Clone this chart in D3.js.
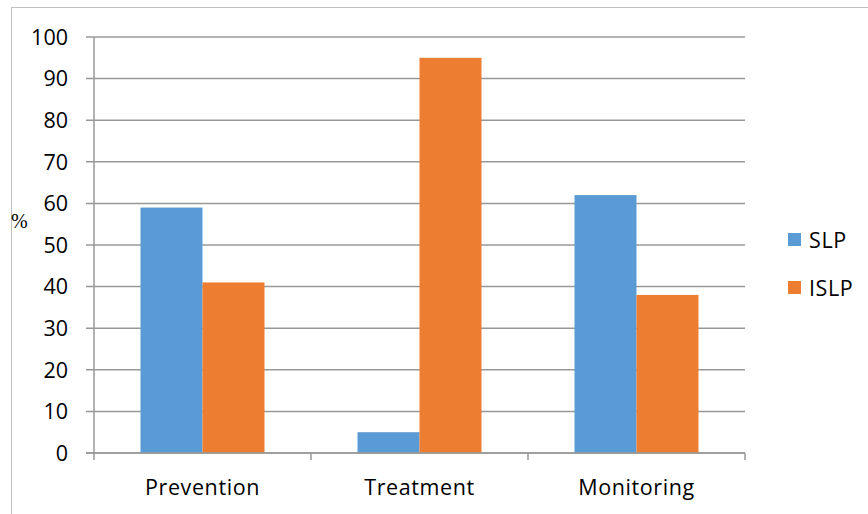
<!DOCTYPE html>
<html>
<head>
<meta charset="utf-8">
<script src="https://cdn.jsdelivr.net/npm/d3@7"></script>
<style>
  html, body { margin: 0; padding: 0; background: #fff; }
  svg { display: block; }
</style>
</head>
<body>
<svg id="chart" width="868" height="514"></svg>
<script>
// Share of each activity by group (%)
const categories = ["Prevention", "Treatment", "Monitoring"];
const seriesNames = ["SLP", "ISLP"];
const slpValues = [59, 5, 62];
const islpValues = [41, 95, 38];
const yTicks = [0, 10, 20, 30, 40, 50, 60, 70, 80, 90, 100];
const colors = ["#5B9BD5", "#ED7D31"];

(function () {
  const svg = d3.select("#chart");
  const W = 868, H = 514;
  const font = "'Open Sans', Lato, sans-serif";

  // outer frame
  svg.append("rect")
    .attr("x", 11.5).attr("y", 7.5)
    .attr("width", W).attr("height", H)
    .attr("fill", "none").attr("stroke", "#bfbfbf").attr("stroke-width", 1);

  const plotLeft = 94, plotRight = 745, plotTop = 37, plotBottom = 453;

  const x = d3.scaleBand().domain(categories).range([plotLeft, plotRight]).paddingInner(0).paddingOuter(0);
  const xs = d3.scaleBand().domain(seriesNames).range([0, x.bandwidth()]).paddingInner(0).paddingOuter(0.75);
  const y = d3.scaleLinear().domain([0, 100]).range([plotBottom, plotTop]);

  // gridlines
  svg.append("g")
    .selectAll("line").data(yTicks).join("line")
    .attr("x1", plotLeft - 8).attr("x2", plotRight)
    .attr("y1", d => y(d)).attr("y2", d => y(d))
    .attr("stroke", "#989898").attr("stroke-width", 1.5);

  // y axis line
  svg.append("line")
    .attr("x1", plotLeft).attr("x2", plotLeft)
    .attr("y1", plotTop).attr("y2", plotBottom + 7)
    .attr("stroke", "#989898").attr("stroke-width", 1.5);

  // category separator ticks
  const sepX = categories.map(c => x(c) + x.bandwidth());
  svg.append("g").selectAll("line").data(sepX).join("line")
    .attr("x1", d => d).attr("x2", d => d)
    .attr("y1", plotBottom).attr("y2", plotBottom + 7)
    .attr("stroke", "#989898").attr("stroke-width", 1.5);

  // bars
  const rows = categories.map((c, i) => ({ cat: c, vals: [slpValues[i], islpValues[i]] }));
  const groups = svg.append("g").selectAll("g").data(rows).join("g")
    .attr("transform", d => `translate(${x(d.cat)},0)`);
  groups.selectAll("rect")
    .data(d => d.vals.map((v, j) => ({ key: seriesNames[j], v, j })))
    .join("rect")
    .attr("x", d => xs(d.key))
    .attr("width", xs.bandwidth())
    .attr("y", d => y(d.v))
    .attr("height", d => y(0) - y(d.v))
    .attr("fill", d => colors[d.j]);

  // x axis baseline on top of bars
  svg.append("line")
    .attr("x1", plotLeft - 8).attr("x2", plotRight)
    .attr("y1", plotBottom).attr("y2", plotBottom)
    .attr("stroke", "#989898").attr("stroke-width", 1.5);

  // y tick labels
  svg.append("g").selectAll("text").data(yTicks).join("text")
    .attr("x", 68).attr("y", d => y(d))
    .attr("dy", "0.36em")
    .attr("text-anchor", "end")
    .attr("font-family", font).attr("font-size", 21.5)
    .attr("fill", "#000")
    .text(d => d);

  // category labels
  svg.append("g").selectAll("text").data(categories).join("text")
    .attr("x", d => x(d) + x.bandwidth() / 2).attr("y", 495)
    .attr("text-anchor", "middle")
    .attr("font-family", font).attr("font-size", 21.5)
    .attr("letter-spacing", 0.6)
    .attr("fill", "#000")
    .text(d => d);

  // y axis title
  svg.append("text")
    .attr("x", 11).attr("y", 228)
    .attr("font-family", "'Liberation Serif', 'DejaVu Serif', serif")
    .attr("font-size", 20)
    .attr("fill", "#000")
    .text("%");

  // legend
  const legend = svg.append("g").selectAll("g").data(seriesNames).join("g")
    .attr("transform", (d, i) => `translate(788,${233 + i * 48})`);
  legend.append("rect")
    .attr("width", 13).attr("height", 13)
    .attr("fill", (d, i) => colors[i]);
  legend.append("text")
    .attr("x", 21).attr("y", 7).attr("dy", "0.36em")
    .attr("font-family", font).attr("font-size", 21.5)
    .attr("letter-spacing", 0.6)
    .attr("fill", "#000")
    .text(d => d);
})();
</script>
</body>
</html>
